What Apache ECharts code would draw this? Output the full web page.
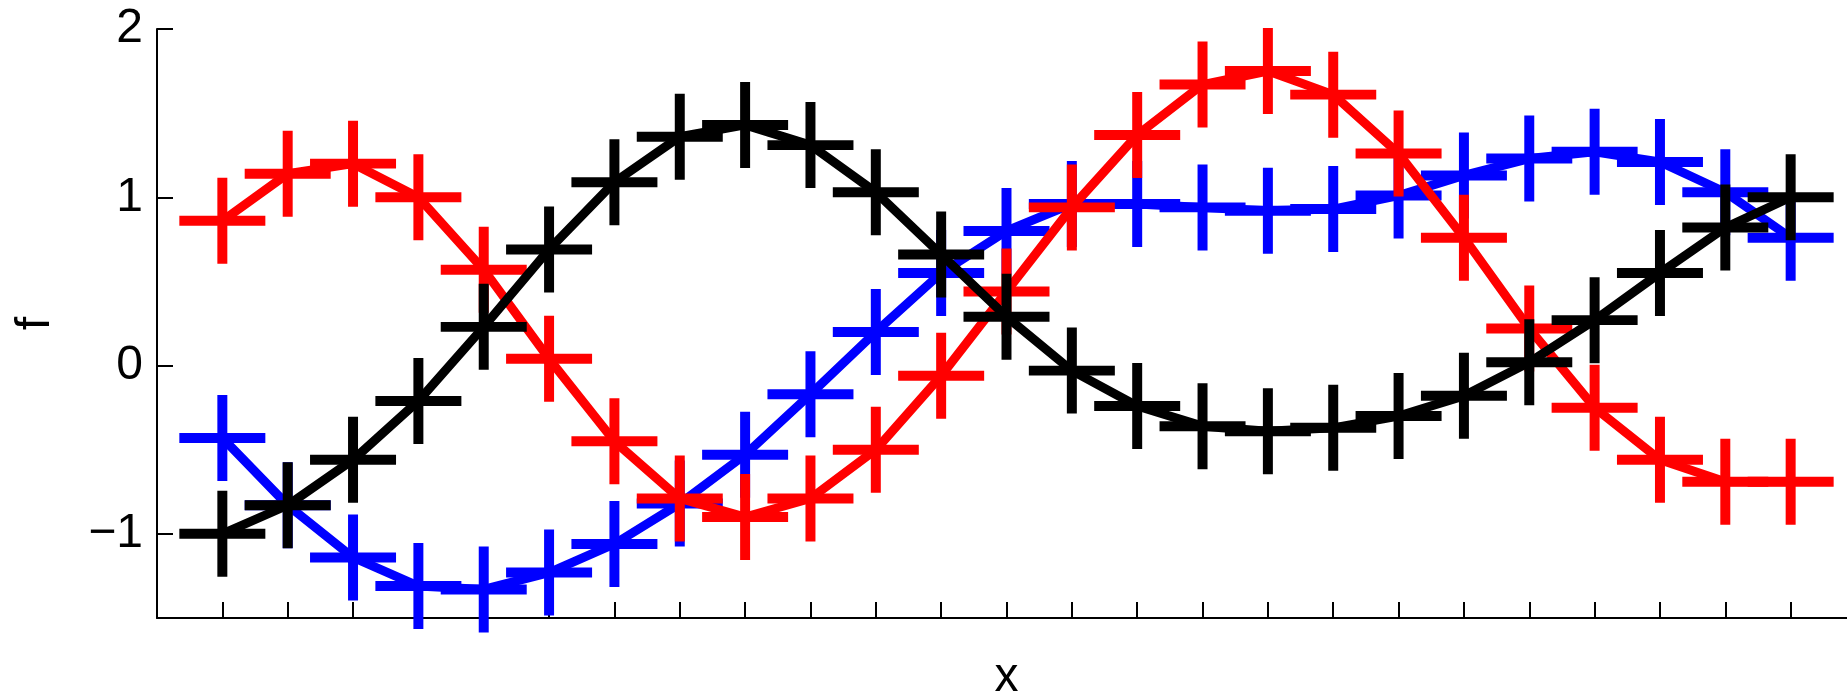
<!DOCTYPE html>
<html>
<head>
<meta charset="utf-8">
<script src="https://cdn.jsdelivr.net/npm/echarts@6/dist/echarts.min.js"></script>
<style>
html,body{margin:0;padding:0;background:#fff;}
#chart{width:1847px;height:693px;}
</style>
</head>
<body>
<div id="chart"></div>
<script>
// x positions (1..25)
const xValues = [1,2,3,4,5,6,7,8,9,10,11,12,13,14,15,16,17,18,19,20,21,22,23,24,25];
// series values
const blueValues  = [-0.43,-0.83,-1.14,-1.31,-1.33,-1.23,-1.06,-0.82,-0.53,-0.17,0.20,0.55,0.80,0.96,0.96,0.94,0.92,0.93,1.01,1.13,1.23,1.27,1.21,1.03,0.76];
const redValues   = [0.86,1.14,1.20,1.00,0.57,0.04,-0.45,-0.79,-0.90,-0.79,-0.50,-0.06,0.44,0.94,1.37,1.67,1.75,1.61,1.26,0.76,0.22,-0.25,-0.56,-0.69,-0.69];
const blackValues = [-1.00,-0.83,-0.56,-0.21,0.23,0.69,1.09,1.36,1.43,1.31,1.03,0.66,0.29,-0.03,-0.24,-0.36,-0.39,-0.37,-0.30,-0.18,0.02,0.27,0.55,0.82,1.00];
// tick labels
const yTickValues = [-1,0,1,2];
const xTickValues = xValues;

const FONT = 'Liberation Sans, Arial, Helvetica, sans-serif';
const plusPath = 'path://M0,44.2L100,44.2L100,55.8L0,55.8Z M44.2,0L55.8,0L55.8,100L44.2,100Z';

function pairs(vals){ return xValues.map((x,i)=>[x, vals[i]]); }
function mkSeries(name, vals, color, z){
  return {
    name: name, type: 'line', data: pairs(vals), z: z,
    symbol: plusPath, symbolSize: 86, showAllSymbol: true,
    itemStyle: {color: color, borderWidth: 0},
    lineStyle: {color: color, width: 9},
    clip: false, silent: true, animation: false
  };
}

const chart = echarts.init(document.getElementById('chart'), null, {renderer: 'canvas'});
chart.setOption({
  backgroundColor: '#ffffff',
  animation: false,
  grid: {left: 157, top: 29, width: 1699, bottom: 75, containLabel: false, outerBoundsMode: 'none'},
  xAxis: {
    type: 'value', min: 0, max: 26,
    name: 'x', nameLocation: 'middle', nameGap: 36,
    nameTextStyle: {fontFamily: FONT, fontSize: 48, color: '#000'},
    axisLine: {show: true, onZero: false, lineStyle: {color: '#000', width: 2}},
    axisTick: {show: true, inside: true, length: 16, customValues: xTickValues, lineStyle: {color: '#000', width: 2}},
    axisLabel: {show: false},
    splitLine: {show: false}
  },
  yAxis: {
    type: 'value', min: -1.5, max: 2,
    name: 'f', nameLocation: 'middle', nameGap: 97,
    nameTextStyle: {fontFamily: FONT, fontSize: 48, color: '#000'},
    axisLine: {show: true, onZero: false, lineStyle: {color: '#000', width: 2}},
    axisTick: {show: true, inside: true, length: 16, customValues: yTickValues, lineStyle: {color: '#000', width: 2}},
    axisLabel: {show: true, customValues: yTickValues, margin: 14, fontFamily: FONT, fontSize: 48, color: '#000',
      formatter: v => String(v).replace('-', '\u2212')},
    splitLine: {show: false}
  },
  series: [
    mkSeries('blue', blueValues, '#0000ff', 2),
    mkSeries('red', redValues, '#ff0000', 3),
    mkSeries('black', blackValues, '#000000', 4)
  ]
});
</script>
</body>
</html>
